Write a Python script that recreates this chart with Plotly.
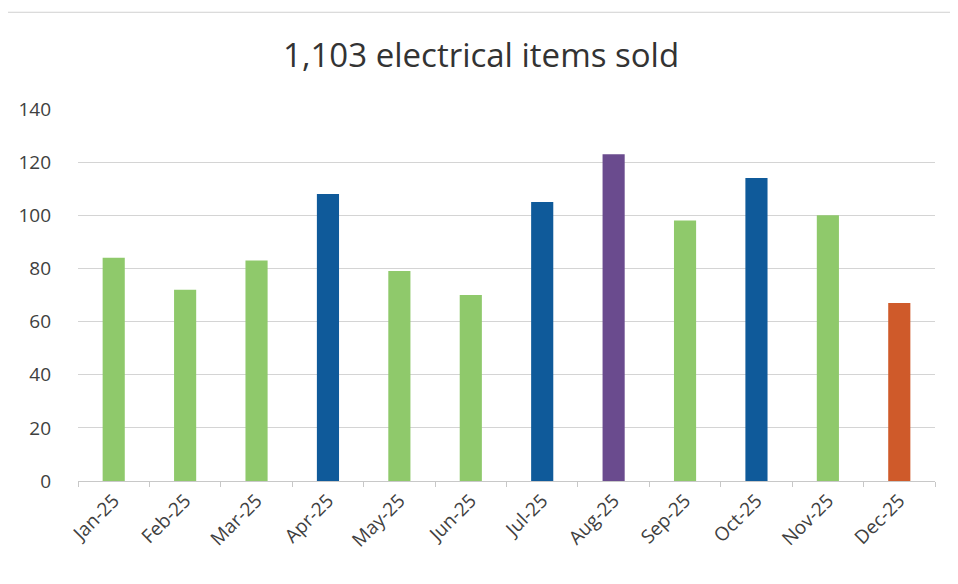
import plotly.graph_objects as go

months = ["Jan-25", "Feb-25", "Mar-25", "Apr-25", "May-25", "Jun-25",
          "Jul-25", "Aug-25", "Sep-25", "Oct-25", "Nov-25", "Dec-25"]
items_sold = [84, 72, 83, 108, 79, 70, 105, 123, 98, 114, 100, 67]
bar_colors = ["#8FC96B", "#8FC96B", "#8FC96B", "#0F5A9A", "#8FC96B", "#8FC96B",
              "#0F5A9A", "#6A4B8E", "#8FC96B", "#0F5A9A", "#8FC96B", "#CF5A2A"]
title_text = "1,103 electrical items sold"

fig = go.Figure(go.Bar(x=months, y=items_sold, marker=dict(color=bar_colors, line=dict(width=0))))

fig.update_layout(
    width=950, height=576,
    paper_bgcolor="white", plot_bgcolor="white",
    margin=dict(l=70, r=23, t=101, b=103),
    bargap=0.69,
    showlegend=False,
    title=dict(text=title_text, x=0.498, xanchor="center", y=0.918, yanchor="middle",
               font=dict(family="Open Sans", size=33, color="#333333")),
    font=dict(family="Open Sans", color="#404040"),
)
fig.update_yaxes(range=[0, 140], dtick=20, showgrid=True, gridcolor="#d4d4d4", gridwidth=1,
                 zeroline=False, showline=False, tickfont=dict(size=19, color="#404040"),
                 ticklabelstandoff=26, automargin=False)
fig.update_xaxes(showline=True, linecolor="#c8c8c8", linewidth=1, ticks="outside",
                 tickson="boundaries", ticklen=5, tickcolor="#c8c8c8", tickangle=-45,
                 tickfont=dict(size=19, color="#404040"), automargin=False)
fig.add_shape(type="rect", xref="paper", yref="paper", x0=-0.086, x1=1.023, y0=-0.3, y1=1.26,
              line=dict(color="#d0d0d0", width=1))

fig.write_html("out.html")
